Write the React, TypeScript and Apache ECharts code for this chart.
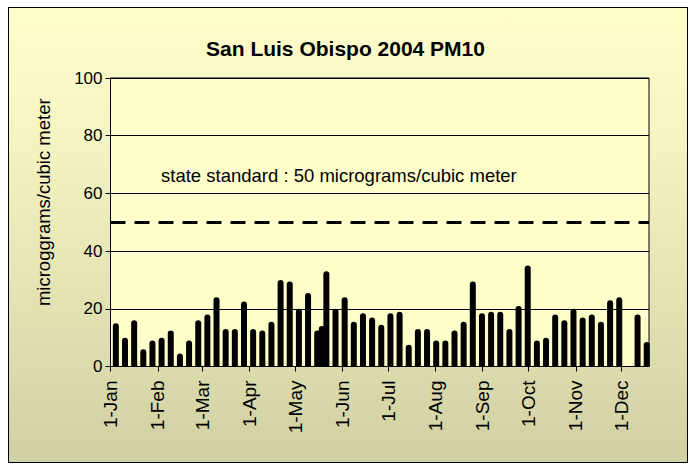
import React, { useEffect, useRef } from "react";
import * as echarts from "echarts";

const titleText = "San Luis Obispo 2004 PM10";
const yAxisName = "microggrams/cubic meter";
const standardLabel = "state standard : 50 micrograms/cubic meter";
const standardValue = 50;

const sampleDates = [
  "2004-01-04", "2004-01-10", "2004-01-16", "2004-01-22", "2004-01-28",
  "2004-02-03", "2004-02-09", "2004-02-15", "2004-02-21", "2004-02-27",
  "2004-03-04", "2004-03-10", "2004-03-16", "2004-03-22", "2004-03-28",
  "2004-04-03", "2004-04-09", "2004-04-15", "2004-04-21", "2004-04-27",
  "2004-05-03", "2004-05-09", "2004-05-15", "2004-05-18", "2004-05-21", "2004-05-27",
  "2004-06-02", "2004-06-08", "2004-06-14", "2004-06-20", "2004-06-26",
  "2004-07-02", "2004-07-08", "2004-07-14", "2004-07-20", "2004-07-26",
  "2004-08-01", "2004-08-07", "2004-08-13", "2004-08-19", "2004-08-25", "2004-08-31",
  "2004-09-06", "2004-09-12", "2004-09-18", "2004-09-24", "2004-09-30",
  "2004-10-06", "2004-10-12", "2004-10-18", "2004-10-24", "2004-10-30",
  "2004-11-05", "2004-11-11", "2004-11-17", "2004-11-23", "2004-11-29",
  "2004-12-11", "2004-12-17",
];

const pm10Values = [
  15, 10, 16, 6, 9,
  10, 12.5, 4.5, 9, 16,
  18, 24, 13, 13, 22.5,
  13, 12.5, 15.5, 30, 29.5,
  20, 25.5, 12.5, 14, 33, 20,
  24, 15.5, 18.5, 17, 14.5,
  18.5, 19, 7.5, 13, 13,
  9, 9, 12.5, 15.5, 29.5, 18.5,
  19, 19, 13, 21, 35,
  9, 10, 18, 16, 20,
  17, 18, 15.5, 23, 24,
  18, 8.5,
];

const monthTickDates = [
  "2004-01-01", "2004-02-01", "2004-03-01", "2004-04-01", "2004-05-01", "2004-06-01",
  "2004-07-01", "2004-08-01", "2004-09-01", "2004-10-01", "2004-11-01", "2004-12-01",
];
const monthTickLabels = [
  "1-Jan", "1-Feb", "1-Mar", "1-Apr", "1-May", "1-Jun",
  "1-Jul", "1-Aug", "1-Sep", "1-Oct", "1-Nov", "1-Dec",
];
const axisStartDate = "2004-01-01";
const axisEndDate = "2004-12-19";

const FONT = '"Liberation Sans", Arial, sans-serif';

function dayIndex(s: string): number {
  const [y, m, d] = s.split("-").map(Number);
  const [y0, m0, d0] = axisStartDate.split("-").map(Number);
  return Math.round((Date.UTC(y, m - 1, d) - Date.UTC(y0, m0 - 1, d0)) / 86400000);
}

export default function App() {
  const ref = useRef<HTMLDivElement>(null);

  useEffect(() => {
    document.body.style.margin = "0";
    if (!ref.current) return;
    const chart = echarts.init(ref.current, undefined, { renderer: "svg" });
    const tickDays = monthTickDates.map(dayIndex);
    const barData = sampleDates.map((d, i) => [dayIndex(d) + 0.5, pm10Values[i]]);

    chart.setOption({
      animation: false,
      backgroundColor: "transparent",
      title: {
        text: titleText,
        left: "center",
        top: 33,
        textStyle: { fontFamily: FONT, fontSize: 21, fontWeight: "bold", color: "#000" },
      },
      grid: {
        left: 110.5,
        right: 42,
        top: 78,
        bottom: 98.5,
        show: true,
        backgroundColor: "#FFFFCC",
        borderColor: "#000",
        borderWidth: 1,
      },
      xAxis: {
        type: "value",
        min: 0,
        max: dayIndex(axisEndDate),
        axisLine: { show: true, onZero: false, lineStyle: { color: "#000", width: 1 } },
        axisTick: { show: true, customValues: tickDays, length: 5, lineStyle: { color: "#000" } },
        axisLabel: {
          customValues: tickDays,
          rotate: 90,
          margin: 14,
          fontSize: 19,
          fontFamily: FONT,
          color: "#000",
          formatter: (v: number) => {
            const i = tickDays.indexOf(Math.round(v));
            return i >= 0 ? monthTickLabels[i] : "";
          },
        },
        splitLine: { show: false },
      },
      yAxis: {
        type: "value",
        min: 0,
        max: 100,
        interval: 20,
        axisLine: { show: true, lineStyle: { color: "#000", width: 1 } },
        axisTick: { show: true, length: 5, lineStyle: { color: "#000" } },
        axisLabel: { fontSize: 17, fontFamily: FONT, color: "#000", margin: 8 },
        splitLine: { show: true, lineStyle: { color: "#000", width: 1 } },
        name: yAxisName,
        nameLocation: "middle",
        nameRotate: 90,
        nameGap: 58,
        nameTextStyle: { fontSize: 18.5, fontFamily: FONT, color: "#000", padding: [0, 0, 0, 40] },
      },
      series: [
        {
          type: "bar",
          data: barData,
          barWidth: 6,
          itemStyle: { color: "#000", borderRadius: [3, 3, 0, 0] },
          markLine: {
            silent: true,
            symbol: "none",
            label: { show: false },
            lineStyle: { color: "#000", width: 3, type: [15, 9] },
            data: [{ yAxis: standardValue }],
          },
        },
      ],
      graphic: [
        {
          type: "text",
          left: 161,
          top: 166,
          style: { text: standardLabel, font: `18.5px ${FONT}`, fill: "#000" },
        },
      ],
    });
    return () => chart.dispose();
  }, []);

  return (
    <div style={{ position: "relative", width: 691, height: 465, background: "#fff", overflow: "hidden" }}>
      <div
        style={{
          position: "absolute",
          left: 8,
          top: 7,
          width: 680,
          height: 456,
          boxSizing: "border-box",
          border: "1px solid #000",
          background: "linear-gradient(to bottom, #FFFFCC 0%, #F4F4C2 30%, #D0D0A4 100%)",
        }}
      />
      <div ref={ref} style={{ position: "absolute", left: 0, top: 0, width: 691, height: 465 }} />
    </div>
  );
}
